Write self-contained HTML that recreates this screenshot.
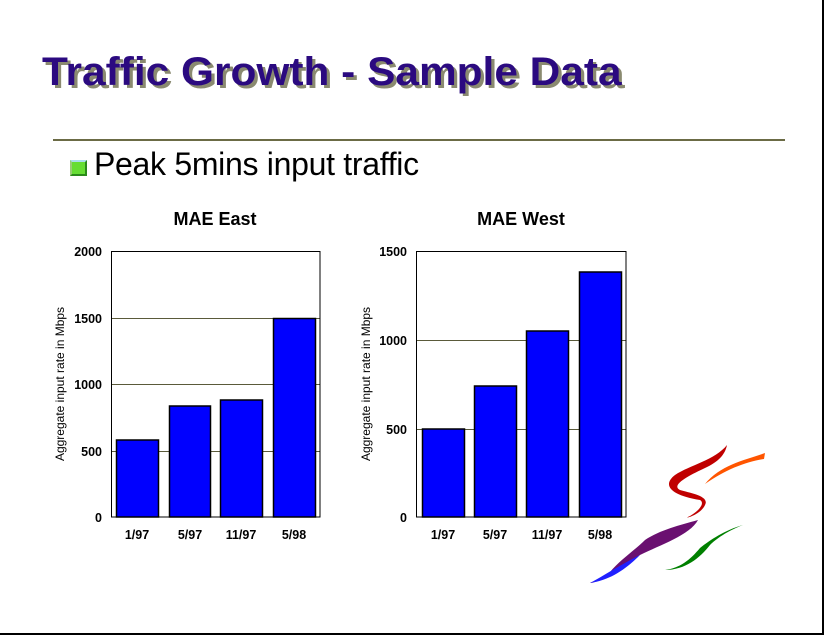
<!DOCTYPE html>
<html><head><style>
body{margin:0;width:825px;height:637px;background:#fff;overflow:hidden;position:relative;font-family:"Liberation Sans",sans-serif}
.frame{position:absolute;left:0;top:0;width:822px;height:633px;border-right:2px solid #000;border-bottom:2px solid #000}
.title{position:absolute;left:42px;top:50px;font-size:40px;font-weight:bold;color:#2b0a80;text-shadow:3px 3px 0 #8a8a70;letter-spacing:0px;white-space:nowrap;transform:scaleX(1.06);transform-origin:left}
.rule{position:absolute;left:53px;top:139px;width:732px;height:2px;background:#6b6b45}
.bullet{position:absolute;left:70px;top:160px;width:13px;height:12px;background:#66dd33;border:2px solid #2a8a1a;border-top-color:#aaddee;border-left-color:#99cc77}
.sub{position:absolute;left:94px;top:146px;font-size:32px;color:#000;white-space:nowrap;letter-spacing:-0.3px}
</style></head><body>
<div class="frame"></div>
<div class="title">Traffic Growth - Sample Data</div>
<div class="rule"></div>
<div class="bullet"></div>
<div class="sub">Peak 5mins input traffic</div>
<svg width="825" height="637" style="position:absolute;left:0;top:0" font-family="Liberation Sans, sans-serif">
<g font-weight="bold" font-size="18" text-anchor="middle" fill="#000">
<text x="215" y="225">MAE East</text>
<text x="521" y="225">MAE West</text>
</g>
<g stroke="#5a5a3a" stroke-width="1">
<line x1="111" y1="318.5" x2="320" y2="318.5"/><line x1="111" y1="384.5" x2="320" y2="384.5"/><line x1="111" y1="451.5" x2="320" y2="451.5"/>
<line x1="416" y1="340.5" x2="626" y2="340.5"/><line x1="416" y1="429.5" x2="626" y2="429.5"/>
</g>
<g fill="#0000ff" stroke="#000" stroke-width="1.5">
<rect x="116.5" y="440" width="42" height="77"/>
<rect x="169.5" y="406" width="41" height="111"/>
<rect x="220.5" y="400" width="42" height="117"/>
<rect x="273.5" y="318.5" width="42" height="198.5"/>
<rect x="422.5" y="429" width="42" height="88"/>
<rect x="474.5" y="386" width="42" height="131"/>
<rect x="526.5" y="331" width="42" height="186"/>
<rect x="579.5" y="272" width="42" height="245"/>
</g>
<rect x="111.5" y="251.5" width="208.5" height="265.5" fill="none" stroke="#000" stroke-width="1"/>
<rect x="416.5" y="251.5" width="209.5" height="265.5" fill="none" stroke="#000" stroke-width="1"/>
<g font-size="12.5" font-weight="bold" text-anchor="end">
<text x="102" y="256">2000</text><text x="102" y="323">1500</text><text x="102" y="389">1000</text><text x="102" y="456">500</text><text x="102" y="522">0</text>
<text x="407" y="256">1500</text><text x="407" y="345">1000</text><text x="407" y="434">500</text><text x="407" y="522">0</text>
</g>
<g font-size="12.5" font-weight="bold" text-anchor="middle">
<text x="137" y="539">1/97</text><text x="190" y="539">5/97</text><text x="241" y="539">11/97</text><text x="294" y="539">5/98</text>
<text x="443" y="539">1/97</text><text x="495" y="539">5/97</text><text x="547" y="539">11/97</text><text x="600" y="539">5/98</text>
</g>
<g font-size="12" text-anchor="middle">
<text transform="translate(64,384) rotate(-90)">Aggregate input rate in Mbps</text>
<text transform="translate(370,384) rotate(-90)">Aggregate input rate in Mbps</text>
</g>
<path d="M727,445 C715,460 690,465 675,475 C662,485 670,495 700,500 C705,503 700,510 690,516 C680,520 700,516 705,505 C710,496 690,493 680,490 C670,485 690,475 705,468 C718,462 725,455 727,445Z" fill="#c00000"/>
<path d="M705,484 C720,465 745,460 765,453 L764,459 C745,462 725,470 705,484Z" fill="#ff5500"/>
<path d="M698,520 C680,525 660,530 645,540 C635,550 620,560 610,572 C600,580 595,583 590,583 C610,576 625,565 640,555 C660,545 690,535 698,520Z" fill="#6a1070"/>
<path d="M640,555 C620,565 605,575 590,583 C610,580 625,570 640,555Z" fill="#2020ff"/>
<path d="M743,525 C725,530 710,540 700,548 C690,560 680,568 665,570 C685,570 700,558 710,545 C720,535 735,528 743,525Z" fill="#008000"/>
</svg>
</body></html>
